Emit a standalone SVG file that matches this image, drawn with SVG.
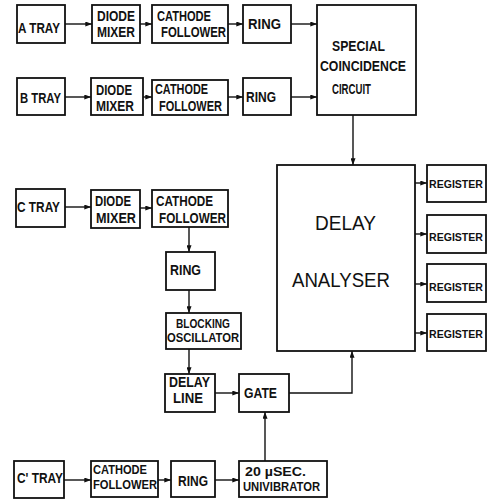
<svg xmlns="http://www.w3.org/2000/svg" width="487" height="499" viewBox="0 0 487 499">
<defs>
<marker id="ah" viewBox="0 0 8 6" refX="8" refY="3" markerWidth="7" markerHeight="5" markerUnits="userSpaceOnUse" orient="auto">
<path d="M0,0 L8,3 L0,6 Z" fill="#111"/>
</marker>
<style>
.b{fill:#fff;stroke:#111;stroke-width:1.8}
.t{font-family:"Liberation Sans",Arial,sans-serif;font-weight:bold;font-size:14px;fill:#111}
.s{font-size:12.5px}
.r{font-size:11px}
.big{font-family:"Liberation Sans",Arial,sans-serif;font-size:20px;fill:#111}
.c{fill:none;stroke:#111;stroke-width:1.4;marker-end:url(#ah)}
</style>
</defs>
<rect width="487" height="499" fill="#fff"/>
<g id="connectors">
<path class="c" d="M65,24 H92"/>
<path class="c" d="M140,24 H152"/>
<path class="c" d="M228,24 H243"/>
<path class="c" d="M291,24 H317"/>
<path class="c" d="M65,97 H91"/>
<path class="c" d="M143,97 H152"/>
<path class="c" d="M228,97 H243"/>
<path class="c" d="M291,97 H317"/>
<path class="c" d="M353,115 V165"/>
<path class="c" d="M65,207 H91"/>
<path class="c" d="M140,208 H152"/>
<path class="c" d="M189,227 V252"/>
<path class="c" d="M189,290 V313"/>
<path class="c" d="M189,349 V374"/>
<path class="c" d="M215,393 H239"/>
<path class="c" d="M289,393 H352 V351"/>
<path class="c" d="M265,461 V412"/>
<path class="c" d="M64,480 H91"/>
<path class="c" d="M158,480 H171"/>
<path class="c" d="M215,480 H239"/>
<path class="c" d="M415,183 H427"/>
<path class="c" d="M415,234 H427"/>
<path class="c" d="M415,284 H427"/>
<path class="c" d="M415,333 H427"/>
</g>
<g id="a-tray"><rect class="b" x="17" y="5" width="48" height="38"/><text class="t" x="18" y="33" textLength="42" lengthAdjust="spacingAndGlyphs">A TRAY</text></g>
<g id="a-diode-mixer"><rect class="b" x="92" y="5" width="48" height="38"/><text class="t" x="97" y="21" textLength="38" lengthAdjust="spacingAndGlyphs">DIODE</text><text class="t" x="97" y="37" textLength="38" lengthAdjust="spacingAndGlyphs">MIXER</text></g>
<g id="a-cathode-follower"><rect class="b" x="152" y="5" width="76" height="38"/><text class="t" x="157" y="21" textLength="54" lengthAdjust="spacingAndGlyphs">CATHODE</text><text class="t" x="161" y="37" textLength="65" lengthAdjust="spacingAndGlyphs">FOLLOWER</text></g>
<g id="a-ring"><rect class="b" x="243" y="5" width="48" height="38"/><text class="t" x="248" y="29" textLength="33" lengthAdjust="spacingAndGlyphs">RING</text></g>
<g id="special-coincidence"><rect class="b" x="317" y="5" width="99" height="110"/><text class="t" x="332" y="51" textLength="53" lengthAdjust="spacingAndGlyphs">SPECIAL</text><text class="t" x="320" y="71" textLength="86" lengthAdjust="spacingAndGlyphs">COINCIDENCE</text><text class="t" x="332" y="94" textLength="39" lengthAdjust="spacingAndGlyphs">CIRCUIT</text></g>
<g id="b-tray"><rect class="b" x="17" y="78" width="48" height="37"/><text class="t" x="20" y="103" textLength="41" lengthAdjust="spacingAndGlyphs">B TRAY</text></g>
<g id="b-diode-mixer"><rect class="b" x="91" y="78" width="52" height="37"/><text class="t" x="96" y="95" textLength="36" lengthAdjust="spacingAndGlyphs">DIODE</text><text class="t" x="96" y="111" textLength="38" lengthAdjust="spacingAndGlyphs">MIXER</text></g>
<g id="b-cathode-follower"><rect class="b" x="152" y="80" width="76" height="35"/><text class="t" x="155" y="94" textLength="53" lengthAdjust="spacingAndGlyphs">CATHODE</text><text class="t" x="159" y="111" textLength="63" lengthAdjust="spacingAndGlyphs">FOLLOWER</text></g>
<g id="b-ring"><rect class="b" x="243" y="78" width="48" height="37"/><text class="t" x="246" y="102" textLength="30" lengthAdjust="spacingAndGlyphs">RING</text></g>
<g id="c-tray"><rect class="b" x="16" y="189" width="49" height="38"/><text class="t" x="17" y="212" textLength="43" lengthAdjust="spacingAndGlyphs">C TRAY</text></g>
<g id="c-diode-mixer"><rect class="b" x="91" y="190" width="49" height="38"/><text class="t" x="95" y="206" textLength="36" lengthAdjust="spacingAndGlyphs">DIODE</text><text class="t" x="96" y="223" textLength="40" lengthAdjust="spacingAndGlyphs">MIXER</text></g>
<g id="c-cathode-follower"><rect class="b" x="152" y="190" width="76" height="37"/><text class="t" x="156" y="206" textLength="57" lengthAdjust="spacingAndGlyphs">CATHODE</text><text class="t" x="159" y="223" textLength="67" lengthAdjust="spacingAndGlyphs">FOLLOWER</text></g>
<g id="c-ring"><rect class="b" x="166" y="252" width="49" height="38"/><text class="t" x="170" y="275" textLength="31" lengthAdjust="spacingAndGlyphs">RING</text></g>
<g id="blocking-oscillator"><rect class="b" x="166" y="313" width="75" height="36"/><text class="t s" x="176" y="328" textLength="54" lengthAdjust="spacingAndGlyphs">BLOCKING</text><text class="t s" x="167" y="342" textLength="72" lengthAdjust="spacingAndGlyphs">OSCILLATOR</text></g>
<g id="delay-line"><rect class="b" x="165" y="374" width="50" height="38"/><text class="t" x="169" y="387" textLength="41" lengthAdjust="spacingAndGlyphs">DELAY</text><text class="t" x="173" y="403" textLength="30" lengthAdjust="spacingAndGlyphs">LINE</text></g>
<g id="gate"><rect class="b" x="239" y="374" width="50" height="38"/><text class="t" x="244" y="398" textLength="33" lengthAdjust="spacingAndGlyphs">GATE</text></g>
<g id="delay-analyser"><rect class="b" x="277" y="165" width="138" height="186"/><text class="big" x="315" y="230" textLength="61" lengthAdjust="spacingAndGlyphs">DELAY</text><text class="big" x="292" y="287" textLength="98" lengthAdjust="spacingAndGlyphs">ANALYSER</text></g>
<g id="register-1"><rect class="b" x="427" y="165" width="59" height="37"/><text class="t r" x="429" y="188" textLength="54" lengthAdjust="spacingAndGlyphs">REGISTER</text></g>
<g id="register-2"><rect class="b" x="427" y="215" width="59" height="38"/><text class="t r" x="429" y="241" textLength="54" lengthAdjust="spacingAndGlyphs">REGISTER</text></g>
<g id="register-3"><rect class="b" x="427" y="264" width="59" height="38"/><text class="t r" x="429" y="291" textLength="54" lengthAdjust="spacingAndGlyphs">REGISTER</text></g>
<g id="register-4"><rect class="b" x="427" y="314" width="59" height="37"/><text class="t r" x="429" y="338" textLength="54" lengthAdjust="spacingAndGlyphs">REGISTER</text></g>
<g id="c-prime-tray"><rect class="b" x="14" y="461" width="50" height="37"/><text class="t" x="17" y="483" textLength="46" lengthAdjust="spacingAndGlyphs">C' TRAY</text></g>
<g id="c-prime-cathode-follower"><rect class="b" x="91" y="461" width="67" height="36"/><text class="t s" x="93" y="474" textLength="54" lengthAdjust="spacingAndGlyphs">CATHODE</text><text class="t s" x="93" y="489" textLength="64" lengthAdjust="spacingAndGlyphs">FOLLOWER</text></g>
<g id="c-prime-ring"><rect class="b" x="171" y="461" width="44" height="36"/><text class="t" x="178" y="486" textLength="30" lengthAdjust="spacingAndGlyphs">RING</text></g>
<g id="univibrator"><rect class="b" x="239" y="461" width="88" height="36"/><text class="t s" x="245" y="476" textLength="61" lengthAdjust="spacingAndGlyphs">20 µSEC.</text><text class="t s" x="243" y="491" textLength="77" lengthAdjust="spacingAndGlyphs">UNIVIBRATOR</text></g>
</svg>
